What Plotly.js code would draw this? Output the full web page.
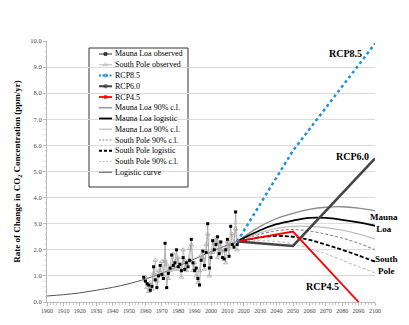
<!DOCTYPE html>
<html><head><meta charset="utf-8">
<script src="https://cdn.plot.ly/plotly-3.0.1.min.js"></script>
<style>html,body{margin:0;padding:0;background:#fff}#chart{width:409px;height:325px}</style>
</head><body><div id="chart"></div>
<script>
const obsYears = [1959,1960,1961,1962,1963,1964,1965,1966,1967,1968,1969,1970,1971,1972,1973,1974,1975,1976,1977,1978,1979,1980,1981,1982,1983,1984,1985,1986,1987,1988,1989,1990,1991,1992,1993,1994,1995,1996,1997,1998,1999,2000,2001,2002,2003,2004,2005,2006,2007,2008,2009,2010,2011,2012,2013,2014,2015,2016];
const maunaLoaObserved = [0.95,0.8,0.7,0.65,0.45,0.6,1.35,0.85,0.55,1.0,1.4,1.05,0.9,2.25,0.55,1.1,1.3,1.8,1.4,1.5,2.0,1.35,1.45,1.2,1.7,1.25,1.5,1.35,1.6,2.4,1.5,1.2,1.3,0.9,0.65,1.6,1.95,1.4,1.9,3.0,1.3,1.7,2.35,2.0,2.2,2.5,1.85,2.3,1.7,1.65,2.0,2.4,1.75,2.9,2.2,2.1,3.45,2.2];
const southPoleObserved = [0.85,0.95,0.55,0.4,0.75,0.5,1.1,1.6,0.8,1.2,1.15,1.55,1.0,1.6,1.45,0.9,1.2,1.3,1.85,1.25,1.6,1.7,1.25,0.95,2.0,1.6,1.2,1.55,2.05,2.2,1.2,1.5,1.0,0.75,1.2,1.8,1.7,1.25,2.2,2.6,1.0,1.9,1.9,2.3,2.45,1.7,2.3,2.0,1.95,2.0,1.5,2.3,2.1,2.2,2.6,2.2,2.8,2.0];
const logisticYears = [1900,1910,1920,1930,1940,1950,1960,1970,1980,1990,2000,2010,2016];
const logisticCurve = [0.23,0.28,0.35,0.45,0.56,0.70,0.88,1.10,1.37,1.65,1.93,2.18,2.32];
const projYears = [2016,2020,2030,2040,2050,2060,2070,2080,2090,2100];
const maunaLoaUpper = [2.32,2.5,2.9,3.2,3.4,3.55,3.63,3.65,3.6,3.5];
const maunaLoaLogistic = [2.32,2.45,2.75,2.98,3.12,3.22,3.22,3.15,3.05,2.92];
const maunaLoaLower = [2.32,2.42,2.65,2.82,2.9,2.9,2.85,2.75,2.6,2.42];
const southPoleUpper = [2.32,2.4,2.6,2.73,2.78,2.72,2.6,2.45,2.25,2.0];
const southPoleLogistic = [2.32,2.36,2.48,2.53,2.5,2.38,2.2,2.0,1.78,1.55];
const southPoleLower = [2.32,2.32,2.35,2.32,2.22,2.05,1.85,1.6,1.35,1.12];
const rcp85Years = [2016,2050,2100];
const rcp85 = [2.32,5.8,9.9];
const rcp60Years = [2016,2050,2100];
const rcp60 = [2.32,2.15,5.5];
const rcp45Years = [2016,2050,2090];
const rcp45 = [2.32,2.7,0.0];
const xTickVals = [1900,1910,1920,1930,1940,1950,1960,1970,1980,1990,2000,2010,2020,2030,2040,2050,2060,2070,2080,2090,2100];
const yTickVals = [0,1,2,3,4,5,6,7,8,9,10];
const legendLabels = ["Mauna Loa observed","South Pole observed","RCP8.5","RCP6.0","RCP4.5","Mauna Loa 90% c.l.","Mauna Loa logistic","Mauna Loa 90% c.l.","South Pole 90% c.l.","South Pole logistic","South Pole 90% c.l.","Logistic curve"];

const FONT = 'Liberation Serif, Times New Roman, serif';
const styles = {
  ml: {line:{color:'#000',width:0.8}, obsLine:{color:'#999',width:0.7}, marker:{color:'#000',size:3,symbol:'square'}},
  sp: {line:{color:'#aaa',width:0.8}, obsLine:{color:'#b0b0b0',width:0.7}, marker:{color:'#aaa',size:4,symbol:'triangle-up-open',line:{width:0.8,color:'#aaa'}}},
  rcp85: {line:{color:'#1f8fe0',width:2.5,dash:'dot'}, marker:{color:'#1f8fe0',size:3,symbol:'square'}},
  rcp60: {line:{color:'#444',width:2.5}, marker:{color:'#444',size:3,symbol:'square'}},
  rcp45: {line:{color:'#ff0000',width:1.8}, marker:{color:'#ff0000',size:3,symbol:'square'}},
  mlU: {line:{color:'#888',width:1.3}},
  mlL: {line:{color:'#000',width:1.8}},
  mlLo: {line:{color:'#c0c0c0',width:1.3}},
  spU: {line:{color:'#888',width:1.1,dash:'3px,2px'}},
  spL: {line:{color:'#000',width:1.8,dash:'4px,2px'}},
  spLo: {line:{color:'#c0c0c0',width:1.1,dash:'3px,2px'}},
  log: {line:{color:'#555',width:1}}
};

const traces = [
  {x:logisticYears,y:logisticCurve,mode:'lines',line:Object.assign({shape:'spline'},styles.log.line)},
  {x:obsYears,y:southPoleObserved,mode:'lines+markers',line:styles.sp.obsLine,marker:styles.sp.marker},
  {x:obsYears,y:maunaLoaObserved,mode:'lines+markers',line:styles.ml.obsLine,marker:styles.ml.marker},
  {x:projYears,y:southPoleLower,mode:'lines',line:Object.assign({shape:'spline'},styles.spLo.line)},
  {x:projYears,y:southPoleUpper,mode:'lines',line:Object.assign({shape:'spline'},styles.spU.line)},
  {x:projYears,y:maunaLoaLower,mode:'lines',line:Object.assign({shape:'spline'},styles.mlLo.line)},
  {x:projYears,y:maunaLoaUpper,mode:'lines',line:Object.assign({shape:'spline'},styles.mlU.line)},
  {x:projYears,y:southPoleLogistic,mode:'lines',line:Object.assign({shape:'spline'},styles.spL.line)},
  {x:projYears,y:maunaLoaLogistic,mode:'lines',line:Object.assign({shape:'spline'},styles.mlL.line)},
  {x:rcp60Years,y:rcp60,mode:'lines',line:styles.rcp60.line},
  {x:rcp45Years,y:rcp45,mode:'lines',line:styles.rcp45.line},
  {x:rcp85Years,y:rcp85,mode:'lines',line:styles.rcp85.line}
];

// custom legend (paper coordinates)
const L = 47, R = 375, T = 41, B = 302, W = R-L, H = B-T;
const px = v => (v-L)/W, py = v => (B-v)/H;
const rowStyles = [styles.ml,styles.sp,styles.rcp85,styles.rcp60,styles.rcp45,styles.mlU,styles.mlL,styles.mlLo,styles.spU,styles.spL,styles.spLo,styles.log];
const shapes = [{type:'rect',xref:'paper',yref:'paper',x0:px(89),x1:px(188),y0:py(48),y1:py(187),line:{color:'#333',width:1},fillcolor:'#fff',layer:'between'}];
const annotations = [];
const mk = {x:[],y:[],symbol:[],color:[],size:[]};
legendLabels.forEach((lab,i)=>{
  const yy = py(54 + i*10.75);
  const st = rowStyles[i];
  const dash = st.line.dash ? (st.line.dash.indexOf('4px')===0 ? '3px,2px' : '2px,1.5px') : 'solid';
  shapes.push({type:'line',xref:'paper',yref:'paper',x0:px(99),x1:px(112),y0:yy,y1:yy,layer:'above',
    line:{color:st.line.color,width:Math.min(st.line.width,2),dash:dash}});
  annotations.push({xref:'paper',yref:'paper',x:px(113),y:yy,xanchor:'left',yanchor:'middle',text:lab,showarrow:false,font:{family:FONT,size:8,color:'#000'}});
  if (st.marker){ mk.x.push(px(105.5)); mk.y.push(yy); mk.symbol.push(st.marker.symbol); mk.color.push(st.marker.color); mk.size.push(st.marker.size);}
});
traces.push({x:mk.x,y:mk.y,xaxis:'x2',yaxis:'y2',mode:'markers',marker:{symbol:mk.symbol,color:mk.color,size:mk.size,line:{color:mk.color,width:0.8}}});

const bold = {family:FONT,size:10,color:'#000'};
annotations.push(
  {x:2082.3,y:9.54,xref:'x',yref:'y',xanchor:'center',yanchor:'middle',text:'<b>RCP8.5</b>',showarrow:false,font:bold},
  {x:2086,y:5.56,xref:'x',yref:'y',xanchor:'center',yanchor:'middle',text:'<b>RCP6.0</b>',showarrow:false,font:bold},
  {x:2068,y:0.61,xref:'x',yref:'y',xanchor:'center',yanchor:'middle',text:'<b>RCP4.5</b>',showarrow:false,font:bold},
  {x:px(384),y:py(223),xref:'paper',yref:'paper',xanchor:'center',yanchor:'middle',text:'<b>Mauna<br>Loa</b>',showarrow:false,font:{family:FONT,size:9,color:'#000'}},
  {x:px(386),y:py(265),xref:'paper',yref:'paper',xanchor:'center',yanchor:'middle',text:'<b>South<br>Pole</b>',showarrow:false,font:{family:FONT,size:9,color:'#000'}}
);

const layout = {
  width:409,height:325,
  margin:{l:L,r:409-R,t:T,b:325-B},
  paper_bgcolor:'#fff',plot_bgcolor:'#fff',
  showlegend:false,
  font:{family:FONT,color:'#444'},
  xaxis:{range:[1900,2100],tickvals:xTickVals,ticktext:xTickVals.map(String),tickfont:{family:FONT,size:6,color:'#444'},
    showgrid:false,zeroline:false,showline:true,linecolor:'#bbb',linewidth:1,ticks:'outside',ticklen:3,tickcolor:'#bbb',
    minor:{dtick:2,ticks:'outside',ticklen:1.5,tickcolor:'#ccc'}},
  yaxis:{range:[0,10],tickvals:yTickVals,tickformat:'.1f',tickfont:{family:FONT,size:6.5,color:'#444'},
    showgrid:true,gridcolor:'#dadada',gridwidth:1,zeroline:false,showline:true,linecolor:'#bbb',linewidth:1,
    ticks:'outside',ticklen:3,tickcolor:'#bbb',minor:{dtick:0.2,ticks:'outside',ticklen:1.5,tickcolor:'#ccc'},
    title:{text:'<b>Rate of Change in CO<sub>2</sub> Concentration (ppm/yr)</b>',font:{family:FONT,size:9,color:'#000'},standoff:8}},
  xaxis2:{range:[0,1],overlaying:'x',visible:false,anchor:'y2'},
  yaxis2:{range:[0,1],overlaying:'y',visible:false,anchor:'x2'},
  shapes:shapes,
  annotations:annotations
};
Plotly.newPlot('chart',traces,layout,{displayModeBar:false,staticPlot:true});
</script></body></html>
